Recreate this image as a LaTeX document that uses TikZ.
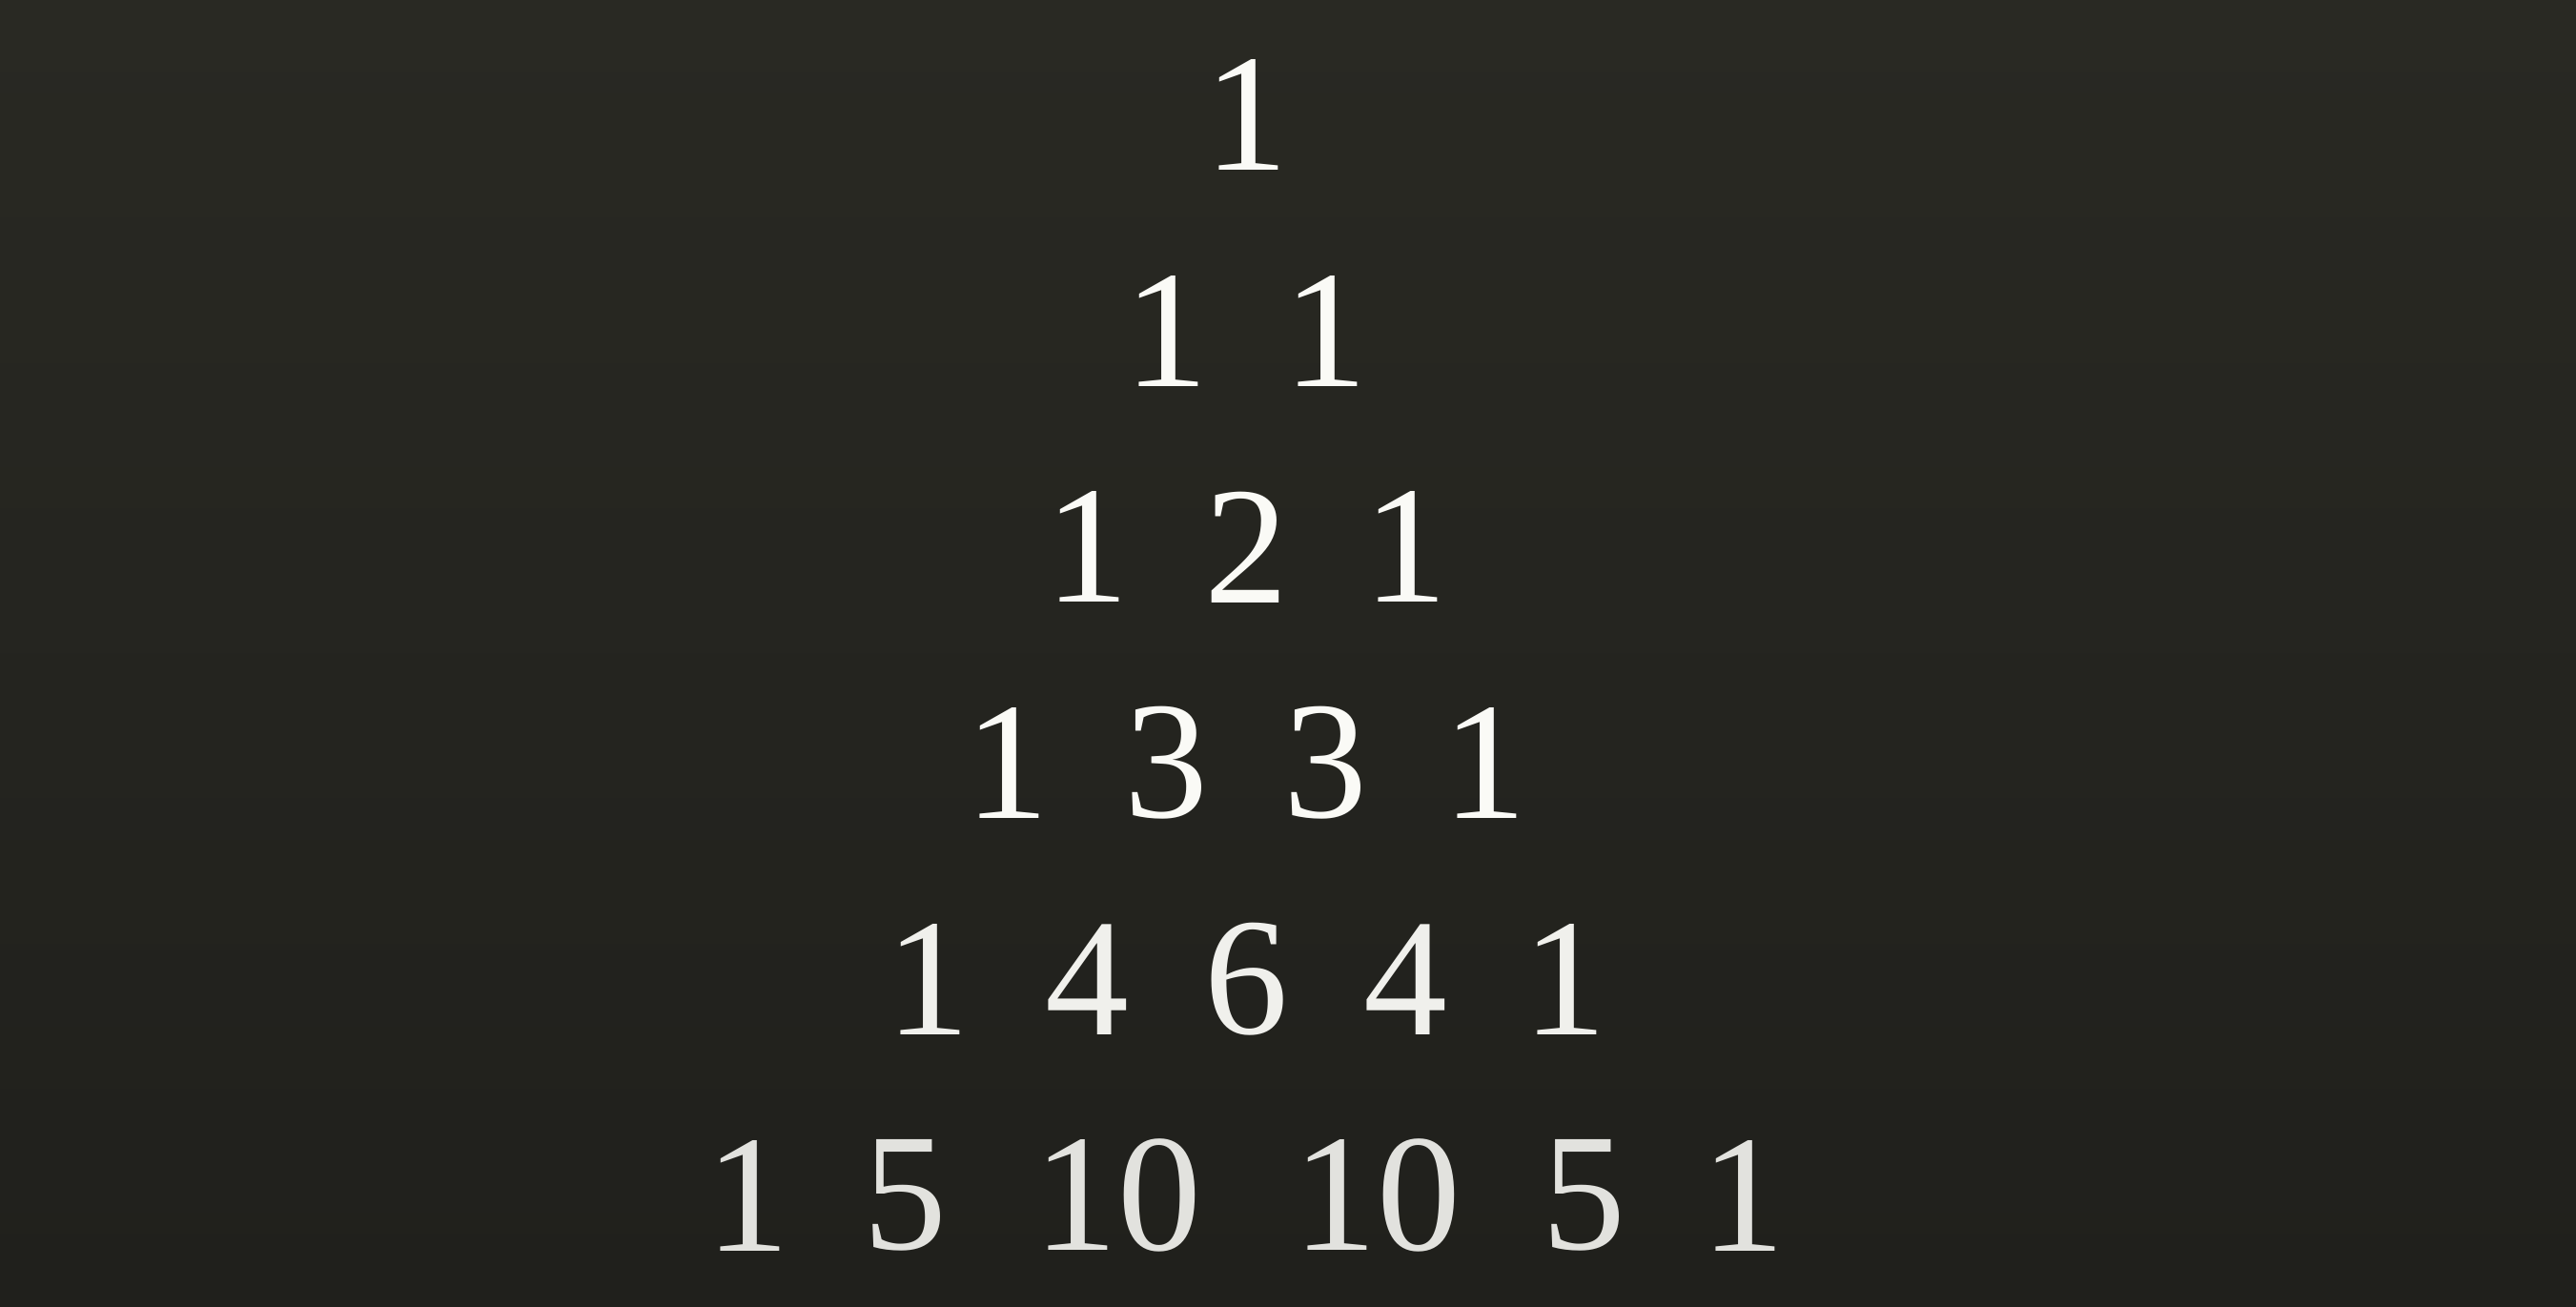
\documentclass[tikz,border=0pt]{standalone}
\usepackage{fontspec}
\setmainfont{Liberation Serif}
\usetikzlibrary{positioning}
\definecolor{boardtop}{RGB}{41,41,35}
\definecolor{boardbottom}{RGB}{32,32,28}
\definecolor{chalk}{RGB}{250,250,246}
\definecolor{chalkdim}{RGB}{240,240,236}
\definecolor{chalkfade}{RGB}{226,226,222}
\tikzset{
    every node/.style={font=\fontsize{50}{60}\selectfont},
    entry/.style={text=chalk, inner sep=0pt},
    dim entry/.style={entry, text=chalkdim},
    faded entry/.style={entry, text=chalkfade}
}

\begin{document}
\begin{tikzpicture}[
            on grid, % place nodes centre to centre
            node distance = 2.267cm and 1.67cm
        ]

        % background
        \shade[top color = boardtop, bottom color = boardbottom] (0,0) rectangle (27.02,-13.70);
        \useasboundingbox (0,0) rectangle (27.02,-13.70);

        % row 1
        \node[entry] (r1c1) at (13.07,-1.205) {1};

        % row 2
        \node[entry] [below left=2.267cm and 0.835cm of r1c1] (r2c1) {1};
        \node[entry] [right=of r2c1] (r2c2) {1};

        % row 3
        \node[entry] [below left=2.267cm and 0.835cm of r2c1] (r3c1) {1};
        \node[entry] [right=of r3c1] (r3c2) {2};
        \node[entry] [right=of r3c2] (r3c3) {1};

        % row 4
        \node[entry] [below left=2.267cm and 0.835cm of r3c1] (r4c1) {1};
        \node[entry] [right=of r4c1] (r4c2) {3};
        \node[entry] [right=of r4c2] (r4c3) {3};
        \node[entry] [right=of r4c3] (r4c4) {1};

        % row 5
        \node[dim entry] [below left=2.267cm and 0.835cm of r4c1] (r5c1) {1};
        \node[dim entry] [right=of r5c1] (r5c2) {4};
        \node[dim entry] [right=of r5c2] (r5c3) {6};
        \node[dim entry] [right=of r5c3] (r5c4) {4};
        \node[dim entry] [right=of r5c4] (r5c5) {1};

        % row 6, two-digit entries push the row wider
        \node[faded entry] [below left=2.267cm and 1.89cm of r5c1] (r6c1) {1};
        \node[faded entry] [right=1.65cm of r6c1] (r6c2) {5};
        \node[faded entry] [right=2.23cm of r6c2] (r6c3) {10};
        \node[faded entry] [right=2.72cm of r6c3] (r6c4) {10};
        \node[faded entry] [right=2.17cm of r6c4] (r6c5) {5};
        \node[faded entry] [right=1.67cm of r6c5] (r6c6) {1};

  \end{tikzpicture}
\end{document}
